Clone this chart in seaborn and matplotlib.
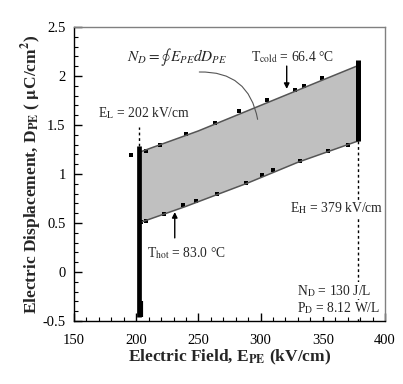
import numpy as np
import pandas as pd
import seaborn as sns
import matplotlib.pyplot as plt
from matplotlib.ticker import MultipleLocator, FuncFormatter

# measured points (square markers)
cold_E = [196, 208, 219, 240, 263, 283, 305, 328, 335, 349]
cold_D = [1.19, 1.24, 1.30, 1.41, 1.52, 1.64, 1.76, 1.86, 1.90, 1.98]
hot_E = [204, 208, 222, 238, 248, 265, 288, 301, 310, 332, 354, 370]
hot_D = [0.51, 0.52, 0.59, 0.68, 0.72, 0.80, 0.91, 0.99, 1.04, 1.13, 1.23, 1.30]

# cycle boundary (fitted lines)
up_E = [202, 250, 300, 350, 379]
up_D = [1.22, 1.44, 1.70, 1.96, 2.11]
lo_E = [202, 240, 290, 330, 379]
lo_D = [0.50, 0.67, 0.91, 1.12, 1.34]

E_L, E_H = 202, 379
left_bar = [-0.46, 1.29]
right_bar = [1.34, 2.16]

sns.set_style("ticks")
plt.rcParams["font.family"] = ["Liberation Serif", "DejaVu Serif"]
plt.rcParams["mathtext.fontset"] = "stix"
plt.rcParams["axes.unicode_minus"] = False

fig = plt.figure(figsize=(4.03, 3.84), dpi=100)
ax = fig.add_axes([0.1836, 0.164, 0.7717, 0.7656])

# shaded cycle area
poly_E = up_E + [E_H] + lo_E[::-1] + [E_L]
poly_D = up_D + [lo_D[-1]] + lo_D[::-1] + [up_D[0]]
ax.fill(poly_E, poly_D, color="#c0c0c0", lw=0)

up = pd.DataFrame({"E": up_E, "D": up_D})
lo = pd.DataFrame({"E": lo_E, "D": lo_D})
sns.lineplot(data=up, x="E", y="D", ax=ax, color="#555555", lw=1.1, sort=False)
sns.lineplot(data=lo, x="E", y="D", ax=ax, color="#555555", lw=1.1, sort=False)

cold = pd.DataFrame({"E": cold_E, "D": cold_D})
hot = pd.DataFrame({"E": hot_E, "D": hot_D})
sns.scatterplot(data=cold, x="E", y="D", ax=ax, marker="s", s=12, color="black", linewidth=0)
sns.scatterplot(data=hot, x="E", y="D", ax=ax, marker="s", s=12, color="black", linewidth=0)

# thick isofield legs
ax.plot([E_L, E_L], left_bar, color="black", lw=3.4, solid_capstyle="butt")
ax.plot([E_L + 1.5, E_L + 1.5], [-0.46, -0.3], color="black", lw=3, solid_capstyle="butt")
ax.plot([E_H - 0.5, E_H - 0.5], right_bar, color="black", lw=3.6, solid_capstyle="butt")

# dashed guides
ax.plot([E_L, E_L], [1.29, 1.48], color="black", lw=1, ls=(0, (2, 2)))
ax.plot([E_H - 0.5, E_H - 0.5], [1.34, -0.5], color="black", lw=1, ls=(0, (2, 2)))

ax.set_xlim(150, 400)
ax.set_ylim(-0.5, 2.5)
ax.xaxis.set_major_locator(MultipleLocator(50))
ax.xaxis.set_minor_locator(MultipleLocator(10))
ax.yaxis.set_major_locator(MultipleLocator(0.5))
ax.yaxis.set_minor_locator(MultipleLocator(0.1))
ax.yaxis.set_major_formatter(FuncFormatter(lambda v, p: "%g" % v))
ax.tick_params(which="both", direction="in", labelsize=10.5, colors="black")
ax.tick_params(which="major", length=6, width=1)
ax.tick_params(which="minor", length=3, width=0.8)
ax.tick_params(axis="x", pad=9)
ax.tick_params(axis="y", pad=6)
for s in ["top", "right"]:
    ax.spines[s].set_color("#808080")
    ax.spines[s].set_linewidth(1)
for s in ["left", "bottom"]:
    ax.spines[s].set_color("black")
    ax.spines[s].set_linewidth(1)

ax.set_xlabel(r"Electric Field, E$_{\mathbf{PE}}$ (kV/cm)", fontsize=12.5, fontweight="bold", labelpad=1)
ax.set_ylabel(r"Electric Displacement, D$_{\mathbf{PE}}$ ( $\mathbf{\mu}$C/cm$^{\mathbf{2}}$)",
              fontsize=12.5, fontweight="bold", labelpad=-1)

# annotations
ax.text(233, 2.19, r"$N_D = \oint\, E_{PE}dD_{PE}$", fontsize=11, ha="center", va="center")
ax.annotate("", xy=(298, 1.53), xytext=(248.5, 2.04),
            arrowprops=dict(arrowstyle="-", color="#555555", lw=0.8,
                            connectionstyle="arc3,rad=-0.45"))
ax.text(326, 2.19, r"T$_{\mathrm{cold}}$ = 66.4 °C", fontsize=9.8, ha="center", va="center")
ax.annotate("", xy=(321, 1.84), xytext=(321, 2.13),
            arrowprops=dict(arrowstyle="-|>", color="black", lw=1, mutation_scale=8))
ax.text(206.5, 1.62, r"E$_{\mathrm{L}}$ = 202 kV/cm", fontsize=9.8, ha="center", va="center")
ax.text(240, 0.19, r"T$_{\mathrm{hot}}$ = 83.0 °C", fontsize=9.8, ha="center", va="center")
ax.annotate("", xy=(231, 0.64), xytext=(231, 0.32),
            arrowprops=dict(arrowstyle="-|>", color="black", lw=1, mutation_scale=8))
ax.text(361, 0.65, r"E$_{\mathrm{H}}$ = 379 kV/cm", fontsize=9.8, ha="center", va="center",
        bbox=dict(facecolor="white", edgecolor="none", pad=0.5))
ax.text(329, -0.19, r"N$_{\mathrm{D}}$ = 130 J/L", fontsize=9.8, ha="left", va="center",
        bbox=dict(facecolor="white", edgecolor="none", pad=0.5))
ax.text(329, -0.37, r"P$_{\mathrm{D}}$ = 8.12 W/L", fontsize=9.8, ha="left", va="center",
        bbox=dict(facecolor="white", edgecolor="none", pad=0.5))

fig.savefig("out.png", dpi=100)
